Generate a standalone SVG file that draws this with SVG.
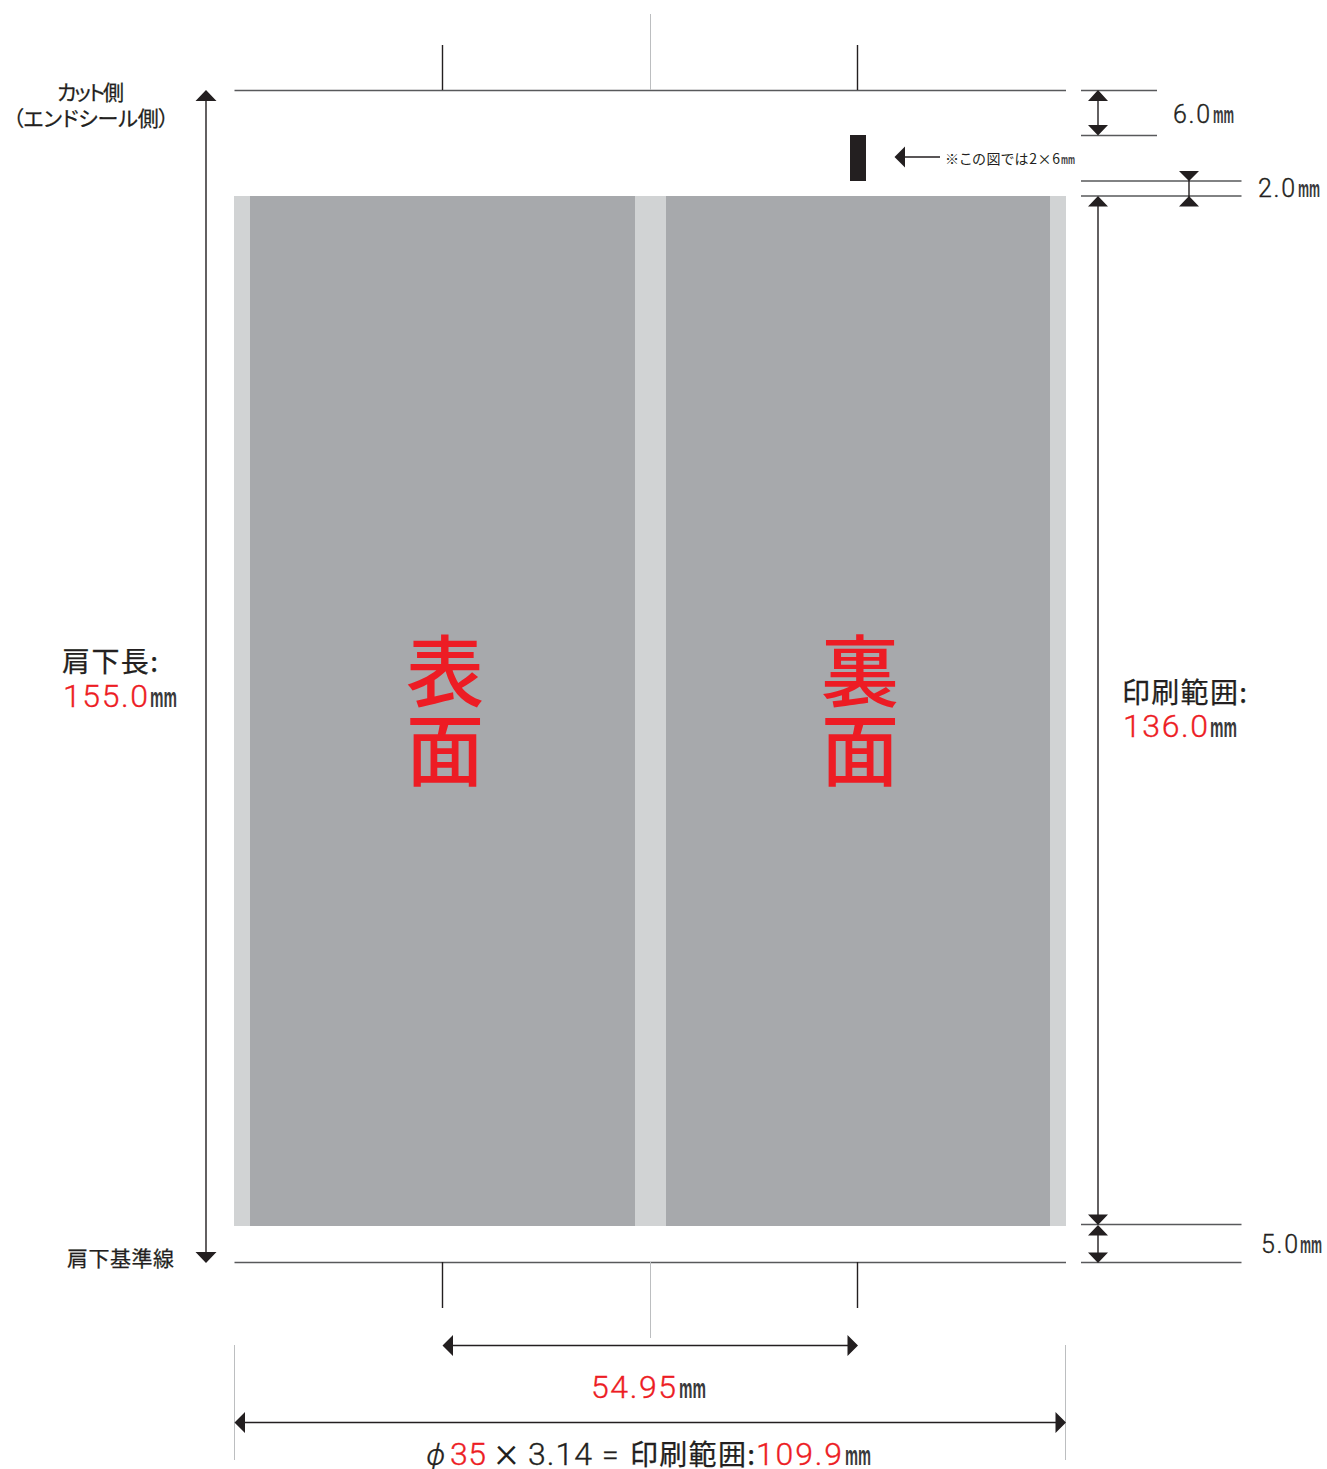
<svg xmlns="http://www.w3.org/2000/svg" width="1327" height="1469" viewBox="0 0 1327 1469">
<style>
.ln{stroke:#58595b;stroke-width:1.4;fill:none}
.dk{stroke:#231f20;stroke-width:1.4;fill:none}
.lt{stroke:#bcbec0;stroke-width:1;fill:none}
.ar{fill:#231f20;stroke:none}
text{font-family:"Noto Sans CJK JP","Noto Sans",sans-serif;fill:#231f20;font-feature-settings:"palt"}
.jp{font-weight:400;stroke:#231f20;stroke-width:.25}
.num{font-family:Roboto,"Noto Sans",sans-serif;font-weight:300;stroke:#231f20;stroke-width:.35}
.red{fill:#ed1c24;stroke:#ed1c24}
.mm{font-family:"Liberation Sans",sans-serif;font-weight:700;fill:#3a3a3c}
.big{font-size:78px;fill:#ed1c24;text-anchor:middle;font-weight:500;font-feature-settings:normal}
</style>
<rect width="1327" height="1469" fill="#fff"/>
<g id="print-area">
<rect x="234" y="196" width="832" height="1030" fill="#d1d3d4"/>
<rect x="250" y="196" width="385" height="1030" fill="#a7a9ac"/>
<rect x="666" y="196" width="384" height="1030" fill="#a7a9ac"/>
</g>
<g id="mark"><rect x="850" y="135" width="16" height="46" fill="#231f20"/></g>
<g id="connectors">
<path class="ln" d="M234.500 90.500H1066M234.500 1262.500H1066"/>
<path class="dk" d="M442.500 45V90M857.500 45V90M442.500 1262V1308M857.500 1262V1308"/>
<path class="lt" d="M650.500 14V90M650.500 1262V1338M234.500 1345V1460M1065.500 1345V1460"/>
<path class="ln" d="M1081 90.500H1157M1081 135.500H1157M1081 181H1241.500M1081 196H1241.500M1081 1224.500H1241.500M1081 1262.500H1241.500"/>
<path class="dk" d="M206 95V1258M1098 95V130M1098 200V1220M1098 1230V1258M1189 176V201M905 157H940M448 1345.500H852M240 1422.500H1060"/>
<g class="ar">
<path d="M206 90l10.500 11h-21zM206 1263l10.500-11h-21z"/>
<path d="M1098 90l10 11h-20zM1098 135.500l10-10.500h-20z"/>
<path d="M1189 181l10-10h-20zM1189 196l10 10.500h-20z"/>
<path d="M1098 196l10 10.500h-20zM1098 1225l10-10.500h-20zM1098 1225l10 10.500h-20zM1098 1263l10-10.500h-20z"/>
<path d="M894.500 157l10.500-10.500v21z"/>
<path d="M442.500 1345.500l10.500-10.500v21zM858 1345.500l-10.500-10.500v21z"/>
<path d="M234.500 1422.500l10.500-10.500v21zM1066 1422.500l-10.500-10.500v21z"/>
</g>
</g>
<g id="label-front"><text class="big" x="445" y="701">表</text><text class="big" x="445" y="780">面</text></g>
<g id="label-back"><text class="big" x="860" y="701">裏</text><text class="big" x="860" y="780">面</text></g>
<g id="label-cut">
<text class="jp" x="57" y="100" font-size="21" textLength="67">カット側</text>
<text class="jp" x="13" y="126" font-size="21" textLength="156">（エンドシール側）</text>
</g>
<g id="label-base"><text class="jp" x="67" y="1266" font-size="21" textLength="107">肩下基準線</text></g>
<g id="label-length">
<text class="jp" x="62" y="672" font-size="28" textLength="96">肩下長:</text>
<text class="num red" x="63" y="707" font-size="32" textLength="85">155.0</text>
<text class="mm" x="150" y="707" font-size="28" textLength="27" lengthAdjust="spacingAndGlyphs">mm</text>
</g>
<g id="label-print">
<text class="jp" x="1122" y="703" font-size="28" textLength="125">印刷範囲:</text>
<text class="num red" x="1123" y="737" font-size="32" textLength="85">136.0</text>
<text class="mm" x="1210" y="737" font-size="28" textLength="27" lengthAdjust="spacingAndGlyphs">mm</text>
</g>
<g id="label-note"><text x="945" y="164" font-size="14" textLength="115">※この図では2×6</text><text class="mm" x="1061" y="164" font-size="13" textLength="14" lengthAdjust="spacingAndGlyphs">mm</text></g>
<g id="label-6">
<text class="num" x="1173" y="123" font-size="25" textLength="37">6.0</text>
<text class="mm" x="1213" y="123" font-size="23" textLength="21" lengthAdjust="spacingAndGlyphs">mm</text>
</g>
<g id="label-2">
<text class="num" x="1258" y="197" font-size="25" textLength="37">2.0</text>
<text class="mm" x="1298" y="197" font-size="23" textLength="22" lengthAdjust="spacingAndGlyphs">mm</text>
</g>
<g id="label-5">
<text class="num" x="1261" y="1253" font-size="25" textLength="37">5.0</text>
<text class="mm" x="1300" y="1253" font-size="23" textLength="22" lengthAdjust="spacingAndGlyphs">mm</text>
</g>
<g id="label-5495">
<text class="num red" x="591" y="1398" font-size="32" textLength="85">54.95</text>
<text class="mm" x="679" y="1398" font-size="28" textLength="27" lengthAdjust="spacingAndGlyphs">mm</text>
</g>
<g id="label-formula">
<text class="num" x="426" y="1465" font-size="30" font-style="italic">ϕ</text>
<text class="num red" x="450" y="1465" font-size="32" textLength="36">35</text>
<text x="495" y="1467" font-size="30" font-family="Roboto" style="font-family:Roboto,sans-serif;font-weight:300;font-size:44px">×</text>
<text class="num" x="528" y="1465" font-size="32" textLength="64">3.14</text>
<text class="num" x="602" y="1465" font-size="30" textLength="19">=</text>
<text class="jp" x="630" y="1465" font-size="28" textLength="125">印刷範囲:</text>
<text class="num red" x="756" y="1465" font-size="32" textLength="86">109.9</text>
<text class="mm" x="845" y="1465" font-size="28" textLength="26" lengthAdjust="spacingAndGlyphs">mm</text>
</g>
</svg>
